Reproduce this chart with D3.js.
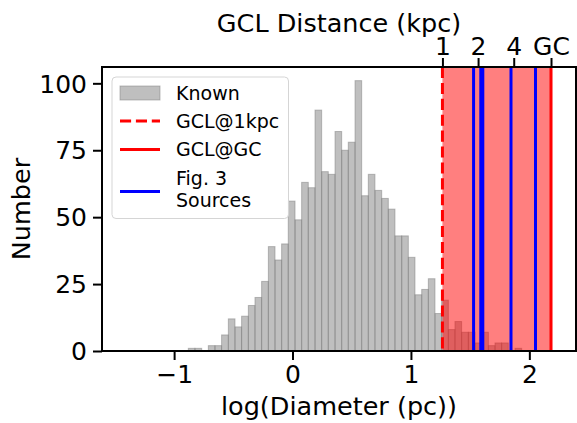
<!DOCTYPE html>
<html>
<head>
<meta charset="utf-8">
<script src="https://cdn.jsdelivr.net/npm/d3@7"></script>
<style>
  html, body { margin: 0; padding: 0; background: #fff; }
  svg { display: block; font-family: "DejaVu Sans", sans-serif; }
</style>
</head>
<body>
<svg id="chart" width="577" height="423"></svg>
<script>
// ---- data ----
const binEdges = [-0.880, -0.824, -0.767, -0.711, -0.655, -0.599, -0.542, -0.486, -0.430, -0.373,
  -0.317, -0.261, -0.204, -0.148, -0.092, -0.036, 0.021, 0.077, 0.133, 0.190,
  0.246, 0.302, 0.359, 0.415, 0.471, 0.528, 0.584, 0.640, 0.696, 0.753,
  0.809, 0.865, 0.922, 0.978, 1.034, 1.091, 1.147, 1.203, 1.259, 1.316,
  1.372, 1.428, 1.485, 1.541, 1.597, 1.654, 1.710, 1.766, 1.822, 1.879, 1.935];
const knownCounts = [1, 1, 0, 2, 2, 6, 12, 9, 13, 17,
  20, 26, 39, 34, 40, 56, 49, 63, 61, 90,
  67, 66, 82, 75, 78, 101, 58, 66, 60, 57,
  53, 43, 43, 35, 21, 23, 27, 14, 19, 8,
  11, 7, 7, 3, 7, 2, 3, 3, 0, 1];
const gcl1kpc = 1.266;          // log(diameter) of GCL at 1 kpc
const gclGC = 2.183;            // log(diameter) of GCL at Galactic Centre
const fig3Sources = [1.529, 1.590, 1.607, 1.845, 2.052];
const xTicks = [-1, 0, 1, 2];
const yTicks = [0, 25, 50, 75, 100];
const topTickDistances = [1, 2, 4, 8.26];   // kpc
const topTickLabels = ["1", "2", "4", "GC"];

// ---- layout ----
const svg = d3.select("#chart");
const L = 102, R = 576, T = 67, B = 351;
const x = d3.scaleLinear().domain([-1.609, 2.394]).range([L, R]);
const y = d3.scaleLinear().domain([0, 106.1]).range([B, T]);

const bins = knownCounts.map((c, i) => ({x0: binEdges[i], x1: binEdges[i + 1], n: c}));

svg.append("defs").append("clipPath").attr("id", "clip")
  .append("rect").attr("x", L).attr("y", T).attr("width", R - L).attr("height", B - T);
const plot = svg.append("g").attr("clip-path", "url(#clip)");

// histogram
plot.selectAll("rect.bar").data(bins.filter(b => b.n > 0)).join("rect")
  .attr("class", "bar")
  .attr("x", d => x(d.x0))
  .attr("width", d => x(d.x1) - x(d.x0))
  .attr("y", d => y(d.n))
  .attr("height", d => y(0) - y(d.n))
  .attr("fill", "#808080").attr("fill-opacity", 0.5)
  .attr("stroke", "#808080").attr("stroke-opacity", 0.5).attr("stroke-width", 1);

// GCL span
plot.append("rect")
  .attr("x", x(gcl1kpc)).attr("width", x(gclGC) - x(gcl1kpc))
  .attr("y", T).attr("height", B - T)
  .attr("fill", "#ff0000").attr("fill-opacity", 0.5);

// lines
plot.append("line")
  .attr("x1", x(gcl1kpc)).attr("x2", x(gcl1kpc)).attr("y1", T).attr("y2", B)
  .attr("stroke", "#ff0000").attr("stroke-width", 3).attr("stroke-dasharray", "11.1,4.8");
plot.append("line")
  .attr("x1", x(gclGC)).attr("x2", x(gclGC)).attr("y1", T).attr("y2", B)
  .attr("stroke", "#ff0000").attr("stroke-width", 3);
plot.selectAll("line.src").data(fig3Sources).join("line")
  .attr("class", "src")
  .attr("x1", d => x(d)).attr("x2", d => x(d)).attr("y1", T).attr("y2", B)
  .attr("stroke", "#0000ff").attr("stroke-width", 3);

// ---- axes ----
const tickFont = 25, labelFont = 25.5;
svg.append("rect").attr("x", L).attr("y", T).attr("width", R - L).attr("height", B - T)
  .attr("fill", "none").attr("stroke", "#000").attr("stroke-width", 2);

const xAxis = svg.append("g").attr("transform", `translate(0,${B})`)
  .call(d3.axisBottom(x).tickValues(xTicks).tickSize(9).tickPadding(5)
    .tickFormat(d => d < 0 ? "\u2212" + Math.abs(d) : String(d)));
const yAxis = svg.append("g").attr("transform", `translate(${L},0)`)
  .call(d3.axisLeft(y).tickValues(yTicks).tickSize(9).tickPadding(6));
const topAxis = svg.append("g").attr("transform", `translate(0,${T})`)
  .call(d3.axisTop(x)
    .tickValues(topTickDistances.map(d => gcl1kpc + Math.log10(d)))
    .tickFormat((d, i) => topTickLabels[i]).tickSize(9).tickPadding(3));

[xAxis, yAxis, topAxis].forEach(g => {
  g.select(".domain").remove();
  g.selectAll(".tick line").attr("stroke", "#000").attr("stroke-width", 2);
  g.selectAll(".tick text").attr("font-size", tickFont).attr("fill", "#000")
    .attr("font-family", "DejaVu Sans, sans-serif");
});
xAxis.selectAll(".tick text").attr("dy", "0.71em");
yAxis.selectAll(".tick text").attr("dy", "0.35em");

// axis labels
svg.append("text").attr("x", (L + R) / 2).attr("y", 415).attr("text-anchor", "middle")
  .attr("font-size", labelFont).text("log(Diameter (pc))");
svg.append("text").attr("x", (L + R) / 2).attr("y", 32).attr("text-anchor", "middle")
  .attr("font-size", labelFont).text("GCL Distance (kpc)");
svg.append("text").attr("transform", `translate(30,${(T + B) / 2}) rotate(-90)`)
  .attr("text-anchor", "middle").attr("font-size", labelFont).text("Number");

// ---- legend ----
const lg = svg.append("g");
lg.append("rect").attr("x", 112).attr("y", 77).attr("width", 176.5).attr("height", 141.5)
  .attr("rx", 4).attr("fill", "#fff").attr("fill-opacity", 0.8)
  .attr("stroke", "#d5d5d5").attr("stroke-width", 1);
const legendFont = 19;
lg.append("rect").attr("x", 120).attr("y", 86).attr("width", 40).attr("height", 14)
  .attr("fill", "#808080").attr("fill-opacity", 0.5)
  .attr("stroke", "#808080").attr("stroke-opacity", 0.5);
lg.append("line").attr("x1", 120).attr("x2", 160).attr("y1", 121).attr("y2", 121)
  .attr("stroke", "#ff0000").attr("stroke-width", 3).attr("stroke-dasharray", "11.1,4.8");
lg.append("line").attr("x1", 120).attr("x2", 160).attr("y1", 149.5).attr("y2", 149.5)
  .attr("stroke", "#ff0000").attr("stroke-width", 3);
lg.append("line").attr("x1", 120).attr("x2", 160).attr("y1", 191.5).attr("y2", 191.5)
  .attr("stroke", "#0000ff").attr("stroke-width", 3);
const legendTexts = [["Known", 93.3], ["GCL@1kpc", 121.5], ["GCL@GC", 149.5], ["Fig. 3", 178.5], ["Sources", 200.5]];
lg.selectAll("text").data(legendTexts).join("text")
  .attr("x", 176).attr("y", d => d[1]).attr("dy", "0.35em")
  .attr("font-size", legendFont).text(d => d[0]);
</script>
</body>
</html>
